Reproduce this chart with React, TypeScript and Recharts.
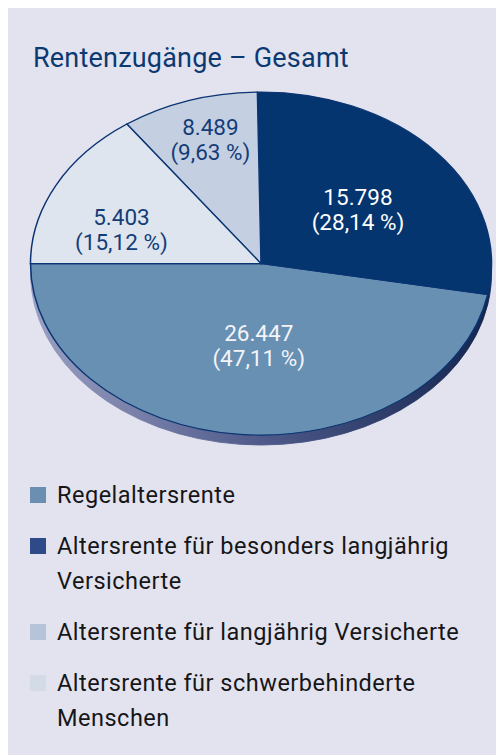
import React from "react";
import { PieChart, Pie, Cell } from "recharts";

const categories = [
  "Regelaltersrente",
  "Altersrente für besonders langjährig Versicherte",
  "Altersrente für langjährig Versicherte",
  "Altersrente für schwerbehinderte Menschen",
];
// counts as printed in the slices
const counts = ["26.447", "15.798", "8.489", "5.403"];
// shares in percent, these set the slice sizes
const shares = [47.11, 28.14, 9.63, 15.12];

const sliceColors = ["#6890b2", "#04356f", "#c4d0e1", "#dfe5ee"];
const swatchColors = ["#6a8fb1", "#2e4a88", "#b5c4d8", "#d3dbe7"];
const labelColors = ["#f4f4fa", "#ffffff", "#143d78", "#143d78"];
// label placement: fraction of radius, angle nudge in degrees
const labelRadius = [0.475, 0.527, 0.758, 0.639];
const labelNudge = [4, -3.2, -1.4, 8.6];

const data = categories.map((name, i) => ({ name, share: shares[i] }));

const FONT = "Roboto, 'Noto Sans', sans-serif";
const K = 171.5 / 230.5; // vertical squash of the tilted pie
const R = 230.5;
const CX = 253;
const CY = 240;
const RAD = Math.PI / 180;

const fmtPct = (v: number) => "(" + v.toFixed(2).replace(".", ",") + " %)";

function SliceLabel(props: any) {
  const { cx, cy, midAngle, outerRadius, index } = props;
  const a = (midAngle + labelNudge[index]) * RAD;
  const r = outerRadius * labelRadius[index];
  const x = cx + r * Math.cos(a);
  const y = cy - r * Math.sin(a);
  return (
    <text
      transform={`translate(${x} ${y}) scale(1 ${1 / K})`}
      textAnchor="middle"
      fontFamily={FONT}
      fontSize={22.5}
      fill={labelColors[index]}
    >
      <tspan x={0} y={-4}>{counts[index]}</tspan>
      <tspan x={0} y={21}>{fmtPct(shares[index])}</tspan>
    </text>
  );
}

export default function App() {
  return (
    <div
      style={{
        position: "relative",
        marginTop: -3,
        width: 496,
        height: 750,
        background: "#e3e3ef",
        fontFamily: FONT,
        overflow: "hidden",
      }}
    >
      {/* TITLE */}
      <div
        style={{
          position: "absolute",
          left: 25,
          top: 40,
          fontSize: 27,
          letterSpacing: 0.2,
          lineHeight: "26px",
          color: "#0b3a72",
          whiteSpace: "nowrap",
        }}
      >
        Rentenzugänge – Gesamt
      </div>

      {/* PIE, squashed to look tilted */}
      <div
        style={{
          position: "absolute",
          left: 0,
          top: 80,
          width: 496,
          height: 500,
          transformOrigin: "0 0",
          transform: `scaleY(${K})`,
        }}
      >
        <PieChart width={496} height={500} margin={{ top: 0, right: 0, bottom: 0, left: 0 }}>
          <defs>
            <linearGradient id="rim" gradientUnits="userSpaceOnUse" x1={CX - R} y1={0} x2={CX + R} y2={0}>
              <stop offset="0%" stopColor="#9aa0c2" />
              <stop offset="50%" stopColor="#4f5a8a" />
              <stop offset="100%" stopColor="#13254f" />
            </linearGradient>
          </defs>
          {/* rim */}
          <Pie
            data={data}
            dataKey="share"
            cx={CX}
            cy={CY + 13.4}
            outerRadius={R}
            startAngle={180}
            endAngle={540}
            stroke="none"
            isAnimationActive={false}
          >
            {data.map((d) => (
              <Cell key={d.name} fill="url(#rim)" stroke="url(#rim)" />
            ))}
          </Pie>
          {/* top face */}
          <Pie
            data={data}
            dataKey="share"
            cx={CX}
            cy={CY}
            outerRadius={R}
            startAngle={180}
            endAngle={540}
            label={SliceLabel}
            labelLine={false}
            isAnimationActive={false}
          >
            {data.map((d, i) => (
              <Cell key={d.name} fill={sliceColors[i]} stroke="#0a3472" strokeWidth={1.5} />
            ))}
          </Pie>
        </PieChart>
      </div>

      {/* LEGEND */}
      <div style={{ position: "absolute", left: 22, top: 473 }}>
        {categories.map((c, i) => (
          <div key={c} style={{ display: "flex", marginBottom: 16 }}>
            <div
              style={{
                width: 16,
                height: 16,
                marginTop: 9,
                background: swatchColors[i],
                flexShrink: 0,
              }}
            />
            <div
              style={{
                marginLeft: 11,
                width: 428,
                fontSize: 23.5,
                letterSpacing: 0.5,
                lineHeight: "35px",
                color: "#161618",
              }}
            >
              {c}
            </div>
          </div>
        ))}
      </div>
    </div>
  );
}
